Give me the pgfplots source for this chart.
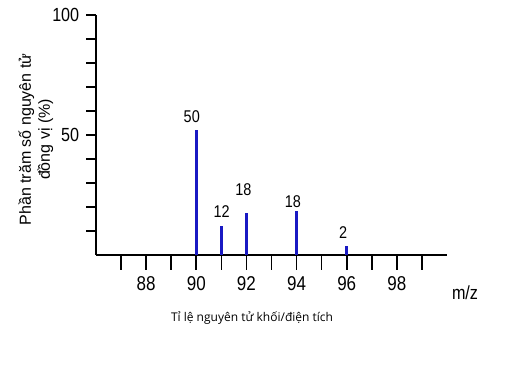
\documentclass[border=0pt]{standalone}
\usepackage{pgfplots}
\pgfplotsset{compat=1.18}
\usepackage{fontspec}
\setmainfont{Liberation Sans}
\newfontfamily\labfont{Open Sans}
\newfontfamily\numfont[FakeStretch=0.85]{Liberation Sans}
\definecolor{barblue}{RGB}{25,25,195}
\begin{document}
\begin{tikzpicture}[x=1pt,y=1pt]
\useasboundingbox (0,0) rectangle (516,366);
\begin{axis}[
  at={(96pt,111pt)}, anchor=south west,
  scale only axis, width=351pt, height=240pt,
  xmin=86, xmax=100, ymin=0, ymax=100,
  axis lines=left, axis line style={line width=1.6pt,-},
  xtick={87,...,99},
  xticklabels={,88,,90,,92,,94,,96,,98,},
  ytick={10,20,...,100},
  yticklabels={,,,,50,,,,,100},
  tick style={line width=1.6pt,black},
  tick align=outside,
  x tick style={/pgfplots/major tick length=15pt},
  y tick style={/pgfplots/major tick length=10pt},
  /pgf/number format/assume math mode=true,
  xticklabel style={font=\numfont\fontsize{20}{20}\selectfont, yshift=-14pt},
  yticklabel style={font=\numfont\fontsize{19}{19}\selectfont, xshift=-9pt},
  clip=false,
]
\addplot[ycomb, color=barblue, line width=2.6pt, mark=none] table {
x y
90 52
91 12
92 17.7
94 18.2
96 3.8
};
\begin{scope}[every node/.style={font=\numfont\fontsize{17}{17}\selectfont, anchor=center, black}]
\node at (axis cs:89.82,57.5) {50};
\node at (axis cs:91.01,17.9) {12};
\node at (axis cs:91.88,27.1) {18};
\node at (axis cs:93.85,22.1) {18};
\node at (axis cs:95.86,9.2) {2};
\end{scope}
\end{axis}
\node[font=\fontsize{16}{19}\selectfont, rotate=90, align=center, anchor=center] at (36,226.5) {Phần trăm số nguyên tử\\đồng vị (\%)};
\node[font=\labfont\fontsize{12}{12}\selectfont, anchor=center] at (252,48) {Tỉ lệ nguyên tử khối/điện tích};
\node[font=\numfont\fontsize{19}{19}\selectfont, anchor=center] at (465,73) {m/z};
\end{tikzpicture}
\end{document}
